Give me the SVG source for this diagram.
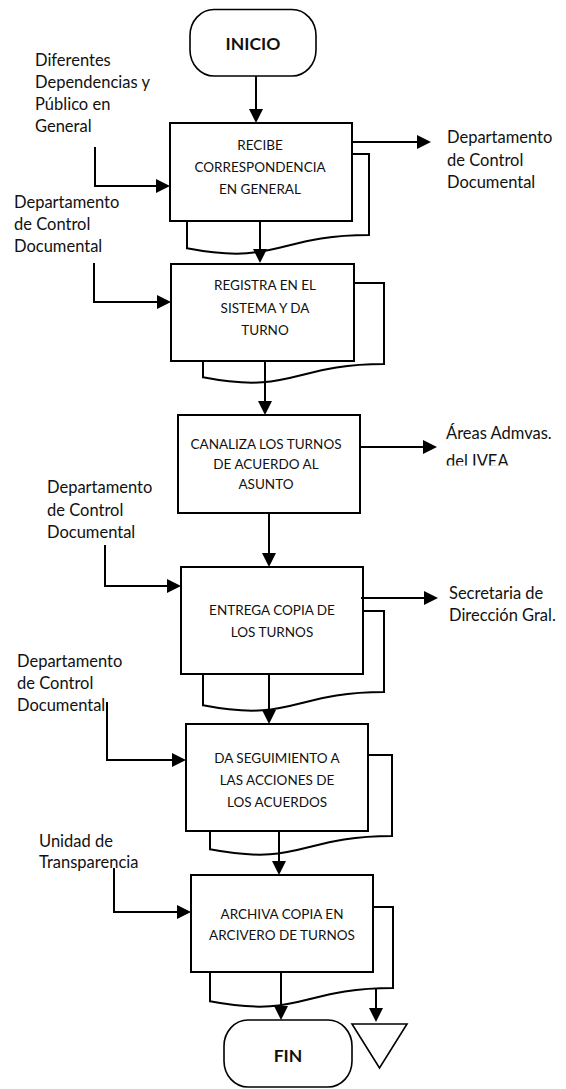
<svg xmlns="http://www.w3.org/2000/svg" width="566" height="1089" viewBox="0 0 566 1089">
  <style>
    .box { fill: #fff; stroke: #000; stroke-width: 2; }
    .doc { fill: #fff; stroke: #000; stroke-width: 2; stroke-linejoin: miter; }
    .term { fill: #fff; stroke: #000; stroke-width: 1.6; }
    .bt { font-family: Lato, "Liberation Sans", sans-serif; font-size: 13.5px; fill: #111; text-anchor: middle; }
    .tt { font-family: Lato, "Liberation Sans", sans-serif; font-size: 17.5px; font-weight: bold; fill: #111; text-anchor: middle; }
    .lbl { font-family: Lato, "Liberation Sans", sans-serif; font-size: 16.5px; fill: #111; }
    .cn { fill: none; stroke: #000; stroke-width: 2; marker-end: url(#head); }
    .ln { fill: none; stroke: #000; stroke-width: 2; }
  </style>
  <defs>
    <marker id="head" viewBox="0 0 14 14" refX="11" refY="7" markerWidth="14" markerHeight="14" markerUnits="userSpaceOnUse" orient="auto">
      <path d="M0,0 L14,7 L0,14 Z" fill="#000"/>
    </marker>
    <clipPath id="clip-areas">
      <rect x="430" y="415" width="136" height="50.5"/>
    </clipPath>
  </defs>

  <!-- start / end terminators -->
  <g id="inicio">
    <rect class="term" x="190" y="9.5" width="126" height="66.5" rx="24" ry="26"/>
    <text class="tt" x="253" y="50">INICIO</text>
  </g>

  <!-- step 1 -->
  <g id="recibe">
    <path class="doc" d="M187,154 H369 V235 C278,235 278,265.8 187,248.3 Z"/>
    <rect class="box" x="170" y="123" width="182" height="98"/>
    <text class="bt" x="260" y="150">RECIBE</text>
    <text class="bt" x="260" y="172">CORRESPONDENCIA</text>
    <text class="bt" x="260" y="194">EN GENERAL</text>
  </g>

  <!-- step 2 -->
  <g id="registra">
    <path class="doc" d="M203,283 H384 V364 C293.5,364 293.5,394.8 203,377.3 Z"/>
    <rect class="box" x="171" y="264" width="183" height="97"/>
    <text class="bt" x="265" y="290">REGISTRA EN EL</text>
    <text class="bt" x="265" y="313">SISTEMA Y DA</text>
    <text class="bt" x="265" y="335">TURNO</text>
  </g>

  <!-- step 3 -->
  <g id="canaliza">
    <rect class="box" x="178" y="415" width="182" height="98"/>
    <text class="bt" x="266" y="449">CANALIZA LOS TURNOS</text>
    <text class="bt" x="266" y="469">DE ACUERDO AL</text>
    <text class="bt" x="266" y="489">ASUNTO</text>
  </g>

  <!-- step 4 -->
  <g id="entrega">
    <path class="doc" d="M203,611 H384 V692 C293.5,692 293.5,722.8 203,705.3 Z"/>
    <rect class="box" x="181" y="567" width="182" height="107"/>
    <text class="bt" x="272" y="615">ENTREGA COPIA DE</text>
    <text class="bt" x="272" y="637">LOS TURNOS</text>
  </g>

  <!-- step 5 -->
  <g id="seguimiento">
    <path class="doc" d="M210,755 H392 V836 C301,836 301,866.8 210,849.3 Z"/>
    <rect class="box" x="186" y="724" width="182" height="107"/>
    <text class="bt" x="277" y="763">DA SEGUIMIENTO A</text>
    <text class="bt" x="277" y="785">LAS ACCIONES DE</text>
    <text class="bt" x="277" y="807">LOS ACUERDOS</text>
  </g>

  <!-- step 6 -->
  <g id="archiva">
    <path class="doc" d="M210,907 H393 V988 C301.5,988 301.5,1018.8 210,1001.3 Z"/>
    <rect class="box" x="191" y="875" width="182" height="97"/>
    <text class="bt" x="282" y="919">ARCHIVA COPIA EN</text>
    <text class="bt" x="282" y="940">ARCIVERO DE TURNOS</text>
  </g>

  <g id="fin">
    <rect class="term" x="224" y="1020" width="128" height="67" rx="24" ry="26"/>
    <text class="tt" x="288" y="1062">FIN</text>
  </g>

  <!-- archive symbol -->
  <g id="archivo">
    <path class="term" d="M352,1024 H407 L379.5,1068 Z" stroke-width="2"/>
  </g>

  <!-- external parties -->
  <g id="lbl-dependencias">
    <text class="lbl" x="35" y="66">Diferentes</text>
    <text class="lbl" x="35" y="88">Dependencias y</text>
    <text class="lbl" x="35" y="110">Público en</text>
    <text class="lbl" x="35" y="132">General</text>
  </g>
  <g id="lbl-control-1">
    <text class="lbl" x="14" y="208">Departamento</text>
    <text class="lbl" x="14" y="230">de Control</text>
    <text class="lbl" x="14" y="252">Documental</text>
  </g>
  <g id="lbl-control-out">
    <text class="lbl" x="447" y="143">Departamento</text>
    <text class="lbl" x="447" y="166">de Control</text>
    <text class="lbl" x="447" y="188">Documental</text>
  </g>
  <g id="lbl-areas" clip-path="url(#clip-areas)">
    <text class="lbl" x="446" y="439">Áreas Admvas.</text>
    <text class="lbl" x="446" y="467">del IVEA</text>
  </g>
  <g id="lbl-control-2">
    <text class="lbl" x="47" y="493">Departamento</text>
    <text class="lbl" x="47" y="516">de Control</text>
    <text class="lbl" x="47" y="538">Documental</text>
  </g>
  <g id="lbl-secretaria">
    <text class="lbl" x="449" y="599">Secretaria de</text>
    <text class="lbl" x="449" y="621">Dirección Gral.</text>
  </g>
  <g id="lbl-control-3">
    <text class="lbl" x="17" y="667">Departamento</text>
    <text class="lbl" x="17" y="689">de Control</text>
    <text class="lbl" x="17" y="711">Documental</text>
  </g>
  <g id="lbl-transparencia">
    <text class="lbl" x="39" y="847">Unidad de</text>
    <text class="lbl" x="39" y="868">Transparencia</text>
  </g>

  <!-- connectors -->
  <g id="connectors">
    <path class="cn" d="M256,76 V120"/>
    <path class="cn" d="M260,221 V260"/>
    <path class="cn" d="M265,361 V412"/>
    <path class="cn" d="M269,513 V564"/>
    <path class="cn" d="M269,674 V721"/>
    <path class="cn" d="M279,831 V872"/>
    <path class="cn" d="M281,972 V1017"/>
    <path class="cn" d="M376,988 V1019"/>

    <path class="cn" d="M95,147 V186 H167"/>
    <path class="cn" d="M94,263 V302 H168"/>
    <path class="cn" d="M105,545 V586 H178"/>
    <path class="cn" d="M107,702 V760 H183"/>
    <path class="cn" d="M114,868 V912 H188"/>

    <path class="cn" d="M352,142 H428"/>
    <path class="cn" d="M359,447 H434"/>
    <path class="cn" d="M361,598 H435"/>
  </g>
</svg>
